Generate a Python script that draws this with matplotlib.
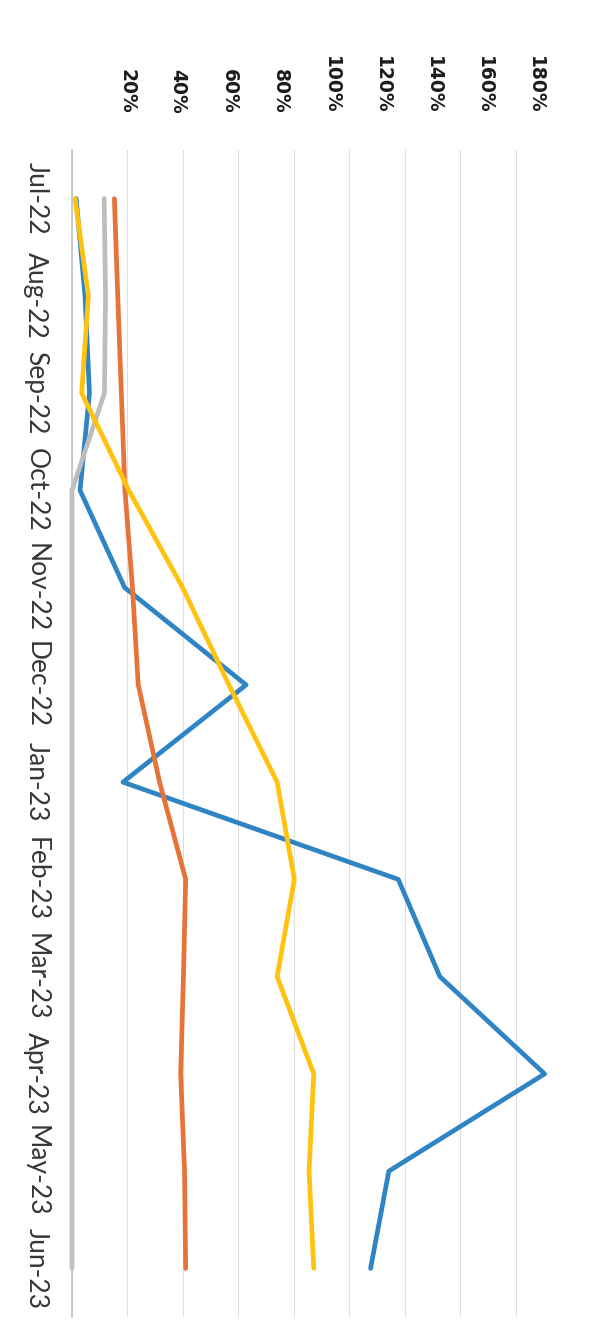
import numpy as np
import matplotlib.pyplot as plt

# monthly ratios in percent, one list per series
months = ['Jul-22', 'Aug-22', 'Sep-22', 'Oct-22', 'Nov-22', 'Dec-22',
          'Jan-23', 'Feb-23', 'Mar-23', 'Apr-23', 'May-23', 'Jun-23']
blue = [1.5, 4.7, 6.3, 2.9, 19.0, 62.8, 18.4, 117.7, 132.7, 170.5, 114.3, 107.7]
orange = [15.3, 16.5, 17.8, 19.1, 21.8, 23.9, 31.6, 41.0, 40.2, 39.2, 40.6, 41.0]
gray = [11.6, 12.1, 11.7, 0, 0, 0, 0, 0, 0, 0, 0, 0]
yellow = [1.1, 5.9, 3.5, 20.5, 39.9, 56.6, 74.0, 80.2, 74.0, 87.2, 85.5, 87.2]
pct_ticks = [20, 40, 60, 80, 100, 120, 140, 160, 180]

fig = plt.figure(figsize=(6.05, 13.37), dpi=100)
# chart is laid out sideways: months run down, values run across
ax = fig.add_axes([72/605, 20/1337, (571-72)/605, (1317-150)/1337])

y = np.arange(len(months))
series = [(blue, '#2f84c3'), (orange, '#e6733a'), (gray, '#bdbdbd'), (yellow, '#ffc20e')]
for vals, col in series:
    ax.plot(vals, y, color=col, lw=3.4, solid_joinstyle='round',
            solid_capstyle='round', clip_on=False)

ax.set_xlim(0, 180)
ax.set_ylim(11.5, -0.5)
ax.set_xticks(np.arange(0, 181, 20))
ax.set_xticklabels([])
ax.xaxis.grid(True, color='#dedede', lw=0.8)
ax.set_axisbelow(True)
ax.tick_params(axis='x', length=0)

ax.set_yticks(y)
ax.set_yticklabels(months, rotation=-90, fontfamily='Lato', fontsize=19, color='#363636',
                   va='center')
ax.tick_params(axis='y', length=0, pad=17)

for s in ['top', 'right', 'bottom']:
    ax.spines[s].set_visible(False)
ax.spines['left'].set_color('#c4c4c4')
ax.spines['left'].set_linewidth(1.2)

# value labels along the top
ax2 = ax.twiny()
ax2.set_xlim(-1.57, 194.1)
ax2.set_xticks(pct_ticks)
ax2.set_xticklabels([f'{v}%' for v in pct_ticks], rotation=-90, fontweight='bold',
                    fontsize=13.5, color='#1c1c1c')
ax2.tick_params(axis='x', length=0, pad=26)
for s in ax2.spines.values():
    s.set_visible(False)

fig.savefig('out.png', dpi=100)
